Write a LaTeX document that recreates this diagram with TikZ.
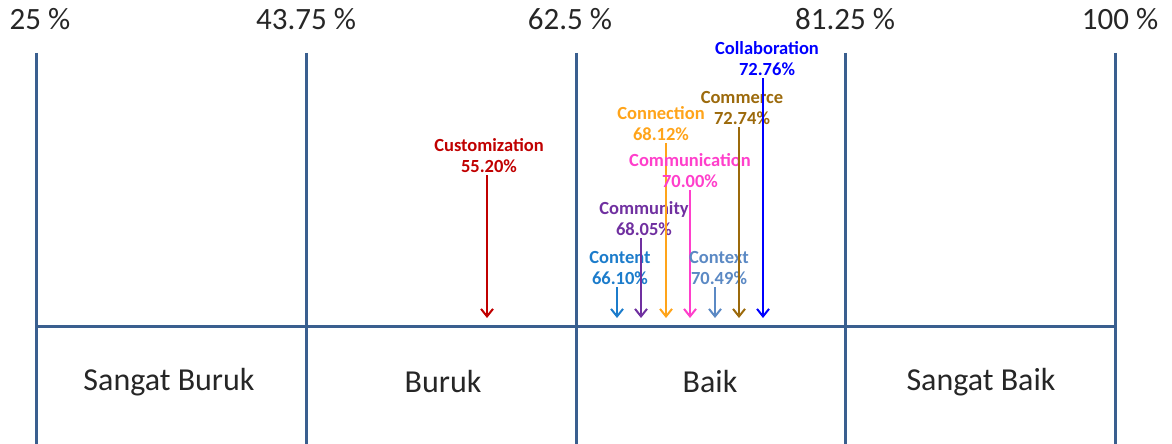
\documentclass[tikz,border=0pt]{standalone}
\usepackage{fontspec}
\setmainfont{Carlito}
\usetikzlibrary{arrows.meta}
\definecolor{gridc}{HTML}{3A5F8F}
\definecolor{ccust}{HTML}{C00000}
\definecolor{ccont}{HTML}{1C7CCB}
\definecolor{ccomy}{HTML}{7030A0}
\definecolor{cconn}{HTML}{FFA41A}
\definecolor{ccomm}{HTML}{FF3FCB}
\definecolor{cctx}{HTML}{5B89C4}
\definecolor{ccmrc}{HTML}{9C6A0C}
\definecolor{ccoll}{HTML}{0000FF}
\begin{document}
\begin{tikzpicture}[x=1pt,y=-1pt,
  gridline/.style={draw=gridc,line width=3pt},
  scalelbl/.style={font=\fontsize{31}{36}\selectfont,text=black!85,anchor=base},
  catlbl/.style={font=\fontsize{32}{36}\selectfont,text=black!85},
  lbl/.style={font=\bfseries\fontsize{18.5}{21}\selectfont,align=center,anchor=south,inner sep=0pt},
  arr/.style={line width=2pt,-{Straight Barb[length=7.5pt,width=12pt,line width=2pt]}}]
\useasboundingbox (0,0) rectangle (1172,444);
% grid
\foreach \x/\n in {36/a,306/b,576/c,845/d,1115/e}{
  \coordinate (t\n) at (\x,53);
  \coordinate (b\n) at (\x,444);
  \draw[gridline] (t\n) -- (b\n);
}
\coordinate (hl) at (36,326);
\coordinate (hr) at (1115,326);
\draw[gridline] (hl) -- (hr);
% scale labels
\node[scalelbl] (s1) at (40,30) {25 \%};
\node[scalelbl] (s2) at (306,30) {43.75 \%};
\node[scalelbl] (s3) at (570,30) {62.5 \%};
\node[scalelbl] (s4) at (845,30) {81.25 \%};
\node[scalelbl] (s5) at (1120,30) {100 \%};
% category labels
\node[catlbl] (k1) at (169,382) {Sangat Buruk};
\node[catlbl] (k2) at (443,382) {Buruk};
\node[catlbl] (k3) at (710,382) {Baik};
\node[catlbl] (k4) at (981,382) {Sangat Baik};
% arrows
\foreach \nm/\ax/\lx/\sy/\col/\txt in {
  cust/487/489/175/ccust/{Customization\\55.20\%},
  cont/617/620/287/ccont/{Content\\66.10\%},
  comy/641/644/238/ccomy/{Community\\68.05\%},
  conn/666/661/143/cconn/{Connection\\68.12\%},
  comm/690/690/190/ccomm/{Communication\\70.00\%},
  ctx/715/719/287/cctx/{Context\\70.49\%},
  cmrc/739/742/127/ccmrc/{Commerce\\72.74\%},
  coll/763/767/78/ccoll/{Collaboration\\72.76\%}}{
  \node[lbl,text=\col] (\nm) at (\lx,\sy-2) {\txt};
  \coordinate (\nm S) at (\ax,\sy);
  \coordinate (\nm E) at (\ax,318);
  \draw[arr,draw=\col] (\nm S) -- (\nm E);
}
\end{tikzpicture}
\end{document}
